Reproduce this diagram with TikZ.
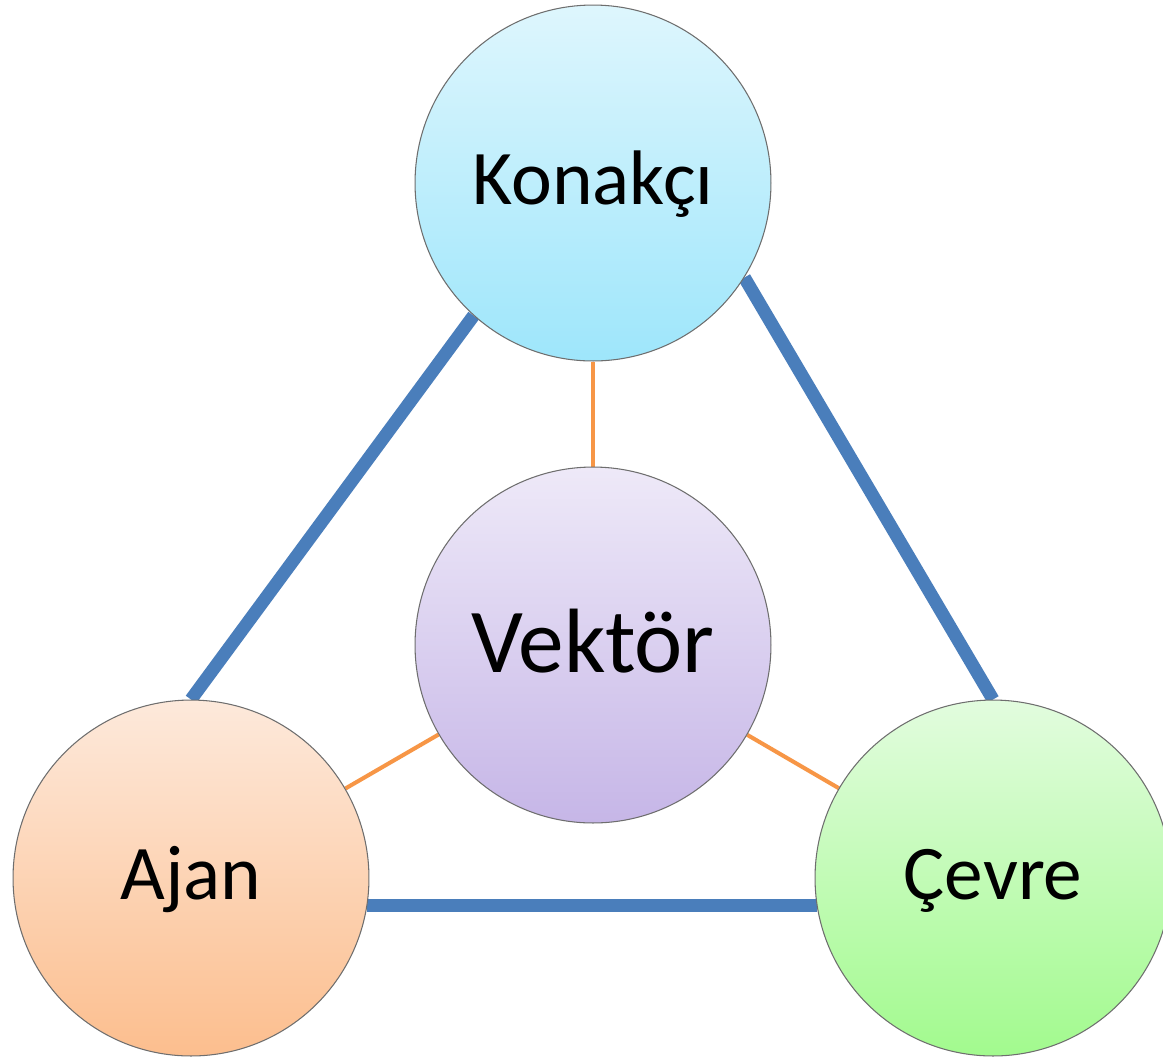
\documentclass[tikz,border=0pt]{standalone}
\usepackage{fontspec}
\setmainfont{Carlito}
\usetikzlibrary{backgrounds}

\definecolor{linkblue}{RGB}{74,126,187}
\definecolor{linkorange}{RGB}{247,150,70}
\definecolor{rimgray}{RGB}{110,110,110}

\tikzset{
  ball/.style={circle, draw=rimgray, line width=0.6pt, minimum size=7.12cm,
    inner sep=0pt, text depth=0cm, text height=0.84cm, font=\fontsize{44}{50}\selectfont},
  hostball/.style={ball, top color={rgb,255:red,222;green,246;blue,253}, bottom color={rgb,255:red,158;green,230;blue,251}},
  vecball/.style={ball, top color={rgb,255:red,238;green,233;blue,248}, bottom color={rgb,255:red,198;green,182;blue,231},
    text height=1.08cm, font=\fontsize{52}{58}\selectfont},
  agentball/.style={ball, top color={rgb,255:red,253;green,233;blue,219}, bottom color={rgb,255:red,252;green,190;blue,142}},
  envball/.style={ball, top color={rgb,255:red,226;green,252;blue,222}, bottom color={rgb,255:red,162;green,250;blue,142}},
  strong/.style={draw=linkblue, line width=7.4pt},
  weak/.style={draw=linkorange, line width=2.3pt}
}

\begin{document}
\begin{tikzpicture}[x=0.02cm, y=-0.02cm]
  \clip (0,0) rectangle (1163,1056);

  \node[hostball]  (k) at (593,183) {Konakçı};
  \node[vecball]   (v) at (593,645) {Vektör};
  \node[agentball] (a) at (191,878) {Ajan};
  \node[envball]   (c) at (993,878) {Çevre};

  \begin{scope}[on background layer]
    \fill[white] (0,0) rectangle (1163,1056);
    % outer triangle
    \draw[strong] (k.-132) -- (a.north);
    \draw[strong] (k.-32) -- (c.north);
    \draw[strong] (a.-9.7) -- (c.189.7);
    % spokes to the centre
    \draw[weak] (k) -- (v);
    \draw[weak] (v) -- (a);
    \draw[weak] (v) -- (c);
  \end{scope}
\end{tikzpicture}
\end{document}
